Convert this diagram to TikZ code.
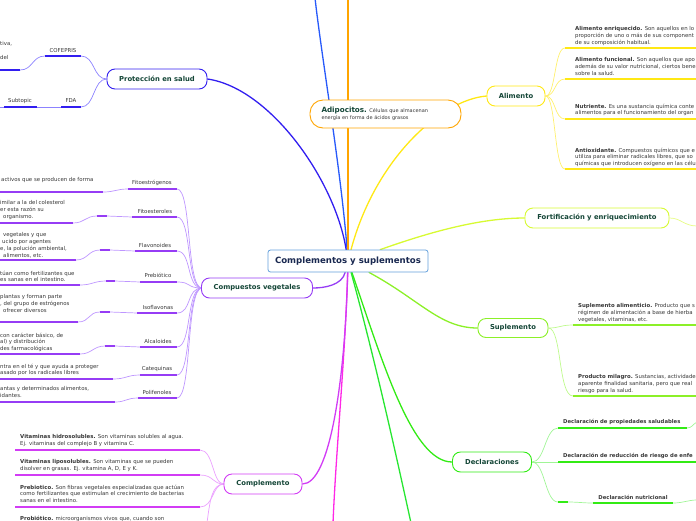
\documentclass[tikz,border=0pt]{standalone}
\usepackage{fontspec}
\setmainfont{DejaVu Sans}
\usetikzlibrary{backgrounds}
\definecolor{cborder}{RGB}{100,160,220}
\definecolor{ctext}{RGB}{25,40,80}
\definecolor{ntext}{RGB}{20,70,55}
\definecolor{btext}{RGB}{55,55,55}
\definecolor{prot}{RGB}{50,30,240}
\definecolor{protl}{RGB}{140,130,255}
\definecolor{topblue}{RGB}{40,90,250}
\definecolor{orangeb}{RGB}{255,165,0}
\definecolor{yel}{RGB}{255,232,20}
\definecolor{yell}{RGB}{255,240,110}
\definecolor{fort}{RGB}{215,250,50}
\definecolor{fortl}{RGB}{230,252,130}
\definecolor{supl}{RGB}{140,240,40}
\definecolor{supll}{RGB}{190,250,140}
\definecolor{decl}{RGB}{50,235,20}
\definecolor{decll}{RGB}{160,245,150}
\definecolor{grn}{RGB}{40,230,50}
\definecolor{mag}{RGB}{255,40,230}
\definecolor{comp}{RGB}{210,60,245}
\definecolor{compl}{RGB}{235,160,255}
\definecolor{veg}{RGB}{150,60,245}
\definecolor{vegl}{RGB}{190,150,255}
\begin{document}
\begin{tikzpicture}[x=1pt,y=-1pt,
 topic/.style={draw, rounded corners=8pt, line width=0.9pt, fill=white, inner sep=0pt, font=\bfseries\fontsize{6.8}{8}\selectfont, text=ntext},
 lbl/.style={inner sep=0pt, font=\fontsize{5.4}{6.5}\selectfont, text=btext},
 dlbl/.style={inner sep=0pt, font=\bfseries\fontsize{5.3}{6.5}\selectfont, text=btext},
 body/.style={inner sep=0pt, anchor=north west, align=left, font=\fontsize{5.4}{6.9}\selectfont, text=btext},
 uline/.style={line width=1.8pt},
 twig/.style={line width=0.7pt},
 branch/.style={line width=1.3pt, line cap=round},
]
\path[use as bounding box] (0,0) rectangle (696,520);

% ---------- main nodes ----------
\node[draw=cborder, fill=white, rounded corners=2.5pt, line width=0.8pt, inner sep=0pt, minimum width=160, minimum height=22, font=\bfseries\fontsize{8.6}{10}\selectfont, text=ctext] (c) at (348,261) {Complementos y suplementos};
\node[topic, draw=prot, minimum width=100, minimum height=20] (p) at (157,79) {Protección en salud};
\node[topic, draw=veg, minimum width=111, minimum height=20] (cv) at (257,288) {Compuestos vegetales};
\node[topic, draw=comp, minimum width=78, minimum height=20] (cm) at (263,484) {Complemento};
\node[topic, draw=orangeb, rounded corners=13pt, minimum width=151, minimum height=28, text width=128, align=left, font=\fontsize{5}{6}\selectfont, text=btext] (ad) at (385.5,114) {{\bfseries\fontsize{7.2}{8}\selectfont\color{ntext}Adipocitos.} Células que almacenan\\[1.5pt]energía en forma de ácidos grasos};
\node[topic, draw=yel, minimum width=58, minimum height=20] (al) at (516,96) {Alimento};
\node[topic, draw=fort, minimum width=144, minimum height=20] (fo) at (597,218) {Fortificación y enriquecimiento};
\node[topic, draw=supl, minimum width=70, minimum height=19] (su) at (513,328) {Suplemento};
\node[topic, draw=decl, minimum width=79, minimum height=20] (de) at (492,462) {Declaraciones};

% ---------- free ends of main branches ----------
\coordinate (toptip) at (315,-2);
\coordinate (otip) at (348,-2);
\coordinate (gtip) at (411,523);
\coordinate (mtip) at (333,523);
\coordinate (fotip) at (697,226);

% ---------- Protección en salud ----------
\node[lbl] (cofe) at (63,51) {COFEPRIS};
\coordinate (cofeL) at (45,56); \coordinate (cofeR) at (81,56);
\coordinate (cofe2L) at (-1,70); \coordinate (cofe2R) at (20,70);
\draw[uline,prot] (cofeL) -- (cofeR);
\draw[uline,prot] (cofe2L) -- (cofe2R);
\node[body] (cofeT) at (0,41.6) {tiva,\\[-0.5pt] \\del};
\node[lbl] (fda) at (71,101) {FDA};
\coordinate (fdaL) at (61,107); \coordinate (fdaR) at (81,107);
\node[lbl] (subt) at (20,101) {Subtopic};
\coordinate (subL) at (4,107); \coordinate (subR) at (37,107);
\coordinate (sub0) at (-1,107);
\draw[uline,prot] (fdaL) -- (fdaR);
\draw[uline,prot] (subL) -- (subR);

% ---------- Compuestos vegetales ----------
\coordinate (cvF) at (202,288);
\node[lbl] (fe) at (152,183) {Fitoestrógenos};
\coordinate (feL) at (128,189); \coordinate (feR) at (177,189);
\coordinate (fe2L) at (-1,192); \coordinate (fe2R) at (103,192);
\node[body] (feT) at (1,177.5) {activos que se producen de forma};

\node[lbl] (fs) at (155,211) {Fitoesteroles};
\coordinate (fsL) at (132,217); \coordinate (fsR) at (177,217);
\coordinate (fsSL) at (97,216); \coordinate (fsSR) at (107,216);
\coordinate (fs2L) at (-1,223); \coordinate (fs2R) at (73,223);
\node[body] (fsT) at (0,200.5) {imilar a la del colesterol\\er esta razón su\\\hspace*{3pt}organismo.};

\node[lbl] (fl) at (155,245) {Flavonoides};
\coordinate (flL) at (135,251); \coordinate (flR) at (177,251);
\coordinate (flSL) at (100,250); \coordinate (flSR) at (110,250);
\coordinate (fl2L) at (-1,260); \coordinate (fl2R) at (76,260);
\node[body] (flT) at (0,232.5) {\hspace*{3pt}vegetales y que\\\hspace*{2pt}ucido por agentes\\e, la polución ambiental,\\\hspace*{3pt}alimentos, etc.};

\node[lbl] (pr) at (158,275.5) {Prebiótico};
\coordinate (prL) at (140,282); \coordinate (prR) at (177,282);
\coordinate (prSL) at (106,281); \coordinate (prSR) at (115,281);
\coordinate (pr2L) at (-1,285); \coordinate (pr2R) at (80,285);
\node[body] (prT) at (0,270.5) {túan como fertilizantes que\\es sanas en el intestino.};

\node[lbl] (iso) at (158,307) {Isoflavonas};
\coordinate (isoL) at (137,313); \coordinate (isoR) at (177,313);
\coordinate (isoSL) at (100,312); \coordinate (isoSR) at (110,312);
\coordinate (iso2L) at (-1,322); \coordinate (iso2R) at (78,322);
\node[body] (isoT) at (0,294.5) {plantas y forman parte\\, del grupo de estrógenos\\\hspace*{3pt}ofrecer diversos};

\node[lbl] (alc) at (158,341) {Alcaloides};
\coordinate (alcL) at (140,347); \coordinate (alcR) at (177,347);
\coordinate (alcSL) at (105,346); \coordinate (alcSR) at (115,346);
\coordinate (alc2L) at (-1,354); \coordinate (alc2R) at (80,354);
\node[body] (alcT) at (0,332.5) {con carácter básico, de\\al) y distribución\\des farmacológicas};

\node[lbl] (cat) at (157,369) {Catequinas};
\coordinate (catL) at (140,375); \coordinate (catR) at (177,375);
\coordinate (cat2L) at (-1,379); \coordinate (cat2R) at (113,379);
\node[body] (catT) at (0,363.5) {ntra en el té y que ayuda a proteger\\asado por los radicales libres};

\node[lbl] (pol) at (157,392.5) {Polifenoles};
\coordinate (polL) at (138,398); \coordinate (polR) at (177,398);
\coordinate (pol2L) at (-1,402); \coordinate (pol2R) at (115,402);
\node[body] (polT) at (0,386.5) {antas y determinados alimentos,\\idantes.};

\foreach \n in {fe,fs,fl,pr,iso,alc,cat,pol} {
  \draw[uline,veg] (\n L) -- (\n R);
  \draw[uline,veg] (\n 2L) -- (\n 2R);
}
\foreach \n in {fs,fl,pr,iso,alc} {
  \draw[uline,veg] (\n SL) -- (\n SR);
}

% ---------- Complemento ----------
\coordinate (cmF) at (224,484);
\node[body] (hidT) at (20,434.5) {\textbf{Vitaminas hidrosolubles.} Son vitaminas solubles al agua.\\Ej. vitaminas del complejo B y vitamina C.};
\coordinate (hidL) at (15,450); \coordinate (hidR) at (200,450);
\node[body] (lipT) at (20,459.5) {\textbf{Vitaminas liposolubles.} Son vitaminas que se pueden\\disolver en grasas. Ej. vitamina A, D, E y K.};
\coordinate (lipL) at (15,475); \coordinate (lipR) at (200,475);
\node[body] (prebT) at (20,484.5) {\textbf{Prebiotico.} Son fibras vegetales especializadas que actúan\\como fertilizantes que estimulan el crecimiento de bacterias\\sanas en el intestino.};
\coordinate (prebL) at (15,507); \coordinate (prebR) at (200,507);
\node[body] (probT) at (20,515.5) {\textbf{Probiótico.} microorganismos vivos que, cuando son};
\coordinate (probE) at (207,523);
\foreach \n in {hid,lip,preb} { \draw[uline,comp] (\n L) -- (\n R); }

% ---------- Alimento ----------
\node[body] (enrT) at (575,26.5) {\textbf{Alimento enriquecido.} Son aquellos en lo\\proporción de uno o más de sus component\\de su composición habitual.};
\coordinate (enrL) at (565,48); \coordinate (enrR) at (697,48);
\node[body] (funT) at (575,57.5) {\textbf{Alimento funcional.} Son aquellos que apo\\además de su valor nutricional, ciertos bene\\sobre la salud.};
\coordinate (funL) at (565,79); \coordinate (funR) at (697,79);
\node[body] (nutT) at (575,103.5) {\textbf{Nutriente.} Es una sustancia química conte\\alimentos para el funcionamiento del organ};
\coordinate (nutL) at (565,119); \coordinate (nutR) at (697,119);
\node[body] (antT) at (575,147.5) {\textbf{Antioxidante.} Compuestos químicos que e\\utiliza para eliminar radicales libres, que so\\químicas que introducen oxígeno en las célu};
\coordinate (antL) at (565,169); \coordinate (antR) at (697,169);
\foreach \n in {enr,fun,nut,ant} { \draw[uline,yel] (\n L) -- (\n R); }

% ---------- Suplemento ----------
\node[body] (saT) at (578,303.5) {\textbf{Suplemento alimenticio.} Producto que s\\régimen de alimentación a base de hierba\\vegetales, vitaminas, etc.};
\coordinate (saL) at (573,325); \coordinate (saR) at (697,325);
\node[body] (pmT) at (578,374.5) {\textbf{Producto milagro.} Sustancias, actividade\\aparente finalidad sanitaria, pero que real\\riesgo para la salud.};
\coordinate (pmL) at (573,396); \coordinate (pmR) at (697,396);
\foreach \n in {sa,pm} { \draw[uline,supl] (\n L) -- (\n R); }

% ---------- Declaraciones ----------
\node[dlbl, anchor=west] (d1) at (563,422) {Declaración de propiedades saludables};
\coordinate (d1L) at (558,428); \coordinate (d1R) at (687,428); \coordinate (d1E) at (697,422);
\node[dlbl, anchor=west] (d2) at (563,456) {Declaración de reducción de riesgo de enfe};
\coordinate (d2L) at (558,462); \coordinate (d2R) at (697,462);
\node[dlbl] (d3) at (633,497) {Declaración nutricional};
\coordinate (d3SL) at (558,502); \coordinate (d3SR) at (568,502);
\coordinate (d3L) at (593,503); \coordinate (d3R) at (673,503); \coordinate (d3E) at (697,500);
\draw[uline,decl] (d1L) -- (d1R);
\draw[uline,decl] (d2L) -- (d2R);
\draw[uline,decl] (d3SL) -- (d3SR);
\draw[uline,decl] (d3L) -- (d3R);

% ---------- connectors (behind) ----------
\begin{scope}[on background layer]
\draw[branch,topblue] (c) .. controls (341,170) and (322,60) .. (toptip);
\draw[branch,orangeb] (c) -- (otip);
\draw[branch,prot] (c) .. controls (335,180) and (270,88) .. (p.east);
\draw[branch,yel] (c) .. controls (375,160) and (440,100) .. (al.west);
\draw[branch,fort] (c) .. controls (430,232) and (480,218) .. (fo.west);
\draw[branch,supl] (c) .. controls (420,300) and (440,328) .. (su.west);
\draw[branch,decl] (c) .. controls (382,360) and (412,462) .. (de.west);
\draw[branch,grn] (c) .. controls (375,360) and (395,450) .. (gtip);
\draw[branch,mag] (c) .. controls (345,360) and (336,450) .. (mtip);
\draw[branch,comp] (c) .. controls (345,380) and (330,484) .. (cm.east);
\draw[branch,veg] (c) .. controls (342,285) and (325,288) .. (cv.east);
% Proteccion
\draw[twig,protl] (p.west) .. controls (93,79) and (95,56) .. (cofeR);
\draw[twig,protl] (p.west) .. controls (93,79) and (95,107) .. (fdaR);
\draw[twig,protl] (cofeL) .. controls (32,56) and (33,70) .. (cofe2R);
\draw[twig,protl] (subR) -- (fdaL);
\draw[twig,protl] (sub0) -- (subL);
% Compuestos vegetales
\foreach \n/\y in {fe/189,fs/217,fl/251,pr/282,iso/313,alc/347,cat/375,pol/398} {
  \draw[twig,vegl] (cvF) .. controls (186,288) and (192,\y) .. (\n R);
}
\draw[twig,vegl] (fe2R) .. controls (115,192) and (116,189) .. (feL);
\draw[twig,vegl] (cat2R) .. controls (126,379) and (127,375) .. (catL);
\draw[twig,vegl] (pol2R) .. controls (126,402) and (126,398) .. (polL);
\foreach \n in {fs,fl,pr,iso,alc} {
  \draw[twig,vegl] (\n 2R) .. controls ([xshift=12pt]\n 2R) and ([xshift=-12pt]\n SL) .. (\n SL);
  \draw[twig,vegl] (\n SR) -- (\n L);
}
% Complemento
\foreach \n/\y in {hid/450,lip/475,preb/507} {
  \draw[twig,compl] (cmF) .. controls (212,484) and (214,\y) .. (\n R);
}
\draw[twig,compl] (cmF) .. controls (212,484) and (210,500) .. (probE);
% Alimento
\foreach \n/\y in {enr/48,fun/79,nut/119,ant/169} {
  \draw[twig,yell] (al.east) .. controls (556,96) and (554,\y) .. (\n L);
}
% Fortificacion
\draw[twig,fortl] (fo.east) .. controls (681,218) and (684,226) .. (fotip);
% Suplemento
\draw[twig,supll] (su.east) .. controls (560,328) and (560,325) .. (saL);
\draw[twig,supll] (su.east) .. controls (562,328) and (558,396) .. (pmL);
% Declaraciones
\draw[twig,decll] (de.east) .. controls (545,462) and (545,428) .. (d1L);
\draw[twig,decll] (de.east) -- (d2L);
\draw[twig,decll] (de.east) .. controls (545,462) and (545,502) .. (d3SL);
\draw[twig,decll] (d3SR) .. controls (578,502) and (583,503) .. (d3L);
\draw[twig,decll] (d3R) .. controls (683,503) and (688,500) .. (d3E);
\draw[twig,decll] (d1R) .. controls (692,428) and (693,424) .. (d1E);
\end{scope}
\end{tikzpicture}
\end{document}
